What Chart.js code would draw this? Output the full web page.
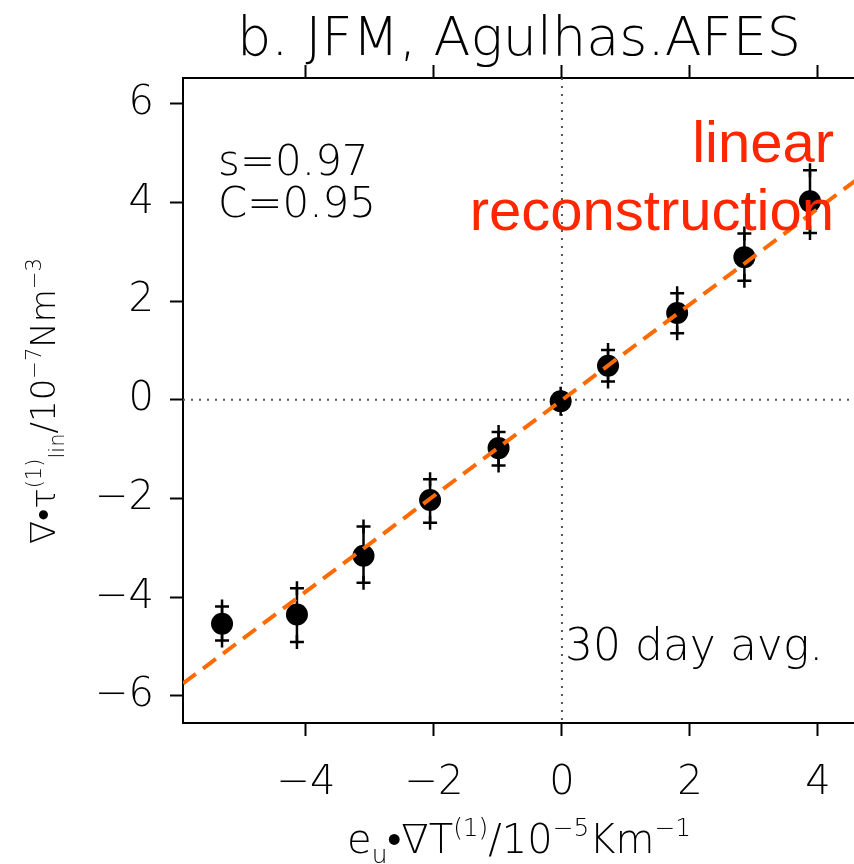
<!DOCTYPE html>
<html>
<head>
<meta charset="utf-8">
<script src="https://cdn.jsdelivr.net/npm/chart.js@4/dist/chart.umd.min.js"></script>
<style>
  html, body { margin: 0; padding: 0; background: #fff; overflow: hidden; }
  canvas { display: block; }
</style>
</head>
<body>
<canvas id="graphe" width="940" height="864" style="width:940px;height:864px"></canvas>
<script>
// Valeurs des points (moyennes 30 jours)
const xVals = [-5.31, -4.14, -3.10, -2.06, -0.99, -0.02, 0.72, 1.80, 2.85, 3.875];
const yVals = [-4.54, -4.35, -3.16, -2.03, -0.98, -0.03, 0.69, 1.76, 2.89, 4.02];
// bornes des barres d'erreur
const yHi = [-4.19, -3.82, -2.57, -1.61, -0.655, 0.12, 1.01, 2.16, 3.37, 4.65];
const yLo = [-4.88, -4.91, -3.71, -2.49, -1.33, -0.18, 0.37, 1.35, 2.41, 3.38];
// droite de reconstruction lineaire (extremites)
const fitX = [-5.92, 5.5];
const fitY = [-5.75, 5.33];
// graduations
const xTicks = [-4, -2, 0, 2, 4];
const yTicks = [-6, -4, -2, 0, 2, 4, 6];

const police = '"DejaVu Sans", sans-serif';
const orange = 'rgb(255, 106, 0)';
const rouge = 'rgb(255, 38, 0)';

// Texte avec indices / exposants : [texte, 'sup' | 'sub' | undefined]
function texteRiche(ctx, morceaux, x, y, taille, centre) {
  const mesure = (m) => {
    ctx.font = '200 ' + (m[1] ? taille * 0.62 : taille) + 'px ' + police;
    return ctx.measureText(m[0]).width;
  };
  let total = 0;
  morceaux.forEach(m => { total += mesure(m); });
  let cx = centre ? x - total / 2 : x;
  ctx.textBaseline = 'alphabetic';
  ctx.textAlign = 'left';
  morceaux.forEach(m => {
    const w = mesure(m);
    let dy = 0;
    if (m[1] === 'sup') dy = -taille * 0.42;
    if (m[1] === 'sub') dy = taille * 0.25;
    ctx.fillText(m[0], cx, y + dy);
    cx += w;
  });
}

const decorations = {
  id: 'decorations',
  beforeDatasetsDraw(chart) {
    const ctx = chart.ctx;
    const a = chart.chartArea;
    const sx = chart.scales.x, sy = chart.scales.y;
    ctx.save();
    // axes zero en pointilles
    ctx.strokeStyle = '#555';
    ctx.lineWidth = 2;
    ctx.setLineDash([2, 6]);
    const x0 = sx.getPixelForValue(0), y0 = sy.getPixelForValue(0);
    ctx.beginPath();
    ctx.moveTo(x0, a.top); ctx.lineTo(x0, a.bottom);
    ctx.moveTo(a.left, y0); ctx.lineTo(a.right, y0);
    ctx.stroke();
    ctx.setLineDash([]);
    // barres d'erreur
    ctx.strokeStyle = '#000';
    ctx.lineWidth = 2.5;
    for (let i = 0; i < xVals.length; i++) {
      const px = sx.getPixelForValue(xVals[i]);
      ctx.beginPath();
      ctx.moveTo(px, sy.getPixelForValue(yHi[i]));
      ctx.lineTo(px, sy.getPixelForValue(yLo[i]));
      ctx.stroke();
    }
    ctx.restore();
  },
  afterDraw(chart) {
    const ctx = chart.ctx;
    const a = chart.chartArea;
    ctx.save();
    ctx.fillStyle = '#000';
    // titre
    ctx.font = '200 54px ' + police;
    ctx.textAlign = 'center';
    ctx.textBaseline = 'alphabetic';
    ctx.fillText('b. JFM, Agulhas.AFES', 519, 55);
    // statistiques
    ctx.font = '200 42px ' + police;
    ctx.textAlign = 'left';
    ctx.fillText('s=0.97', a.left + 35, 175);
    ctx.fillText('C=0.95', a.left + 35, 217);
    ctx.font = '200 44px ' + police;
    ctx.fillText('30 day avg.', 565, 660);
    // legende de la droite
    ctx.fillStyle = rouge;
    ctx.font = '58px "Liberation Sans", Arial, sans-serif';
    ctx.textAlign = 'right';
    ctx.fillText('linear', 834, 162);
    ctx.fillText('reconstruction', 834, 230);
    // titres des axes
    ctx.fillStyle = '#000';
    texteRiche(ctx, [['e'], ['u', 'sub'], ['•'], ['∇T'], ['(1)', 'sup'], ['/'], ['10'], ['−5', 'sup'], ['Km'], ['−1', 'sup']],
      519, 853, 40, true);
    ctx.translate(55, 401);
    ctx.rotate(-Math.PI / 2);
    texteRiche(ctx, [['∇•'], ['τ'], ['(1)', 'sup'], ['lin', 'sub'], ['/'], ['10'], ['−7', 'sup'], ['Nm'], ['−3', 'sup']],
      0, 0, 34, true);
    ctx.restore();
  }
};

function libelle(v) {
  return v < 0 ? '−' + Math.abs(v) : String(v);
}

const axeX = {
  type: 'linear',
  min: fitX[0],
  max: fitX[1],
  afterBuildTicks: (s) => { s.ticks = xTicks.map(v => ({ value: v })); },
  grid: { drawOnChartArea: false, color: '#000', tickLength: 13, tickWidth: 2 },
  border: { color: '#000', width: 2 }
};

new Chart(document.getElementById('graphe').getContext('2d'), {
  type: 'scatter',
  data: {
    datasets: [
      {
        type: 'line',
        data: fitX.map((x, i) => ({ x: x, y: fitY[i] })),
        borderColor: orange,
        borderWidth: 4,
        borderDash: [16, 9],
        pointRadius: 0,
        fill: false
      },
      {
        data: xVals.map((x, i) => ({ x: x, y: yVals[i] })),
        backgroundColor: '#000',
        borderColor: '#000',
        pointRadius: 11,
        pointBorderWidth: 0
      },
      {
        data: xVals.map((x, i) => ({ x: x, y: yHi[i] })),
        pointStyle: 'cross',
        borderColor: '#000',
        pointRadius: 7,
        pointBorderWidth: 2.5
      },
      {
        data: xVals.map((x, i) => ({ x: x, y: yLo[i] })),
        pointStyle: 'cross',
        borderColor: '#000',
        pointRadius: 7,
        pointBorderWidth: 2.5
      }
    ]
  },
  options: {
    responsive: false,
    animation: false,
    devicePixelRatio: 1,
    layout: { padding: { left: 0, right: 26, top: 0, bottom: 0 } },
    plugins: { legend: { display: false }, tooltip: { enabled: false } },
    scales: {
      x: Object.assign({}, axeX, {
        position: 'bottom',
        ticks: { color: '#000', padding: 24, font: { family: police, size: 40, weight: 200 }, callback: libelle },
        afterFit: (s) => { s.height = 141; }
      }),
      x2: Object.assign({}, axeX, {
        position: 'top',
        ticks: { display: false },
        afterFit: (s) => { s.height = 78; }
      }),
      y: {
        type: 'linear',
        min: -6.55,
        max: 6.52,
        afterBuildTicks: (s) => { s.ticks = yTicks.map(v => ({ value: v })); },
        grid: { drawOnChartArea: false, color: '#000', tickLength: 13, tickWidth: 2 },
        border: { color: '#000', width: 2 },
        ticks: { color: '#000', padding: 16, font: { family: police, size: 40, weight: 200 }, callback: libelle },
        afterFit: (s) => { s.width = 183; }
      }
    }
  },
  plugins: [decorations]
});
</script>
</body>
</html>
